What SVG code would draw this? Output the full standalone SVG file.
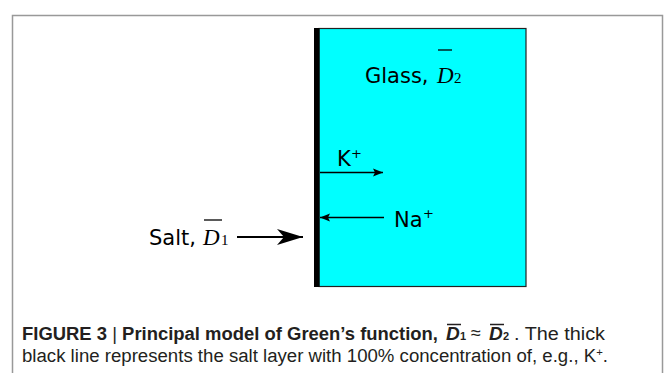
<svg xmlns="http://www.w3.org/2000/svg" width="665" height="373" viewBox="0 0 665 373">
<defs>
<style>
.lab{font-family:"DejaVu Sans",sans-serif;font-size:21px;fill:#000}
.sup{font-family:"DejaVu Sans",sans-serif;font-size:13px;fill:#000}
.mth{font-family:"Liberation Serif",serif;font-style:italic;font-size:23px;fill:#000}
.sub{font-family:"Liberation Serif",serif;font-size:15px;fill:#000}
.cap{font-family:"Liberation Sans",sans-serif;font-size:18px;fill:#231f20}
.capb{font-family:"Liberation Sans",sans-serif;font-size:18px;font-weight:bold;fill:#231f20}
.capd{font-family:"Liberation Sans",sans-serif;font-size:19px;font-weight:bold;font-style:italic;fill:#231f20}
.caps{font-family:"Liberation Sans",sans-serif;font-size:11px;font-weight:bold;fill:#231f20}
.thin{stroke:#000;stroke-width:1.5;fill:none}
</style>
<marker id="sm" viewBox="0 0 10 10" refX="10" refY="5" markerWidth="10" markerHeight="10" markerUnits="userSpaceOnUse" orient="auto">
<path d="M0,1 L10,5 L0,9 L2,5 Z" fill="#000"/>
</marker>
<marker id="big" viewBox="0 0 26 16" refX="26" refY="8" markerWidth="26" markerHeight="16" markerUnits="userSpaceOnUse" orient="auto">
<path d="M0,0 L26,8 L0,16 L7,8 Z" fill="#000"/>
</marker>
</defs>
<rect x="12.5" y="15.5" width="650" height="370" fill="#fff" stroke="#999" stroke-width="1.5"/>
<g id="glass">
<rect x="319" y="28.5" width="207" height="258" fill="#00ffff" stroke="#222" stroke-width="1.2"/>
<text class="lab" x="365" y="83">Glass,</text>
<text class="mth" x="437" y="83">D</text>
<text class="sub" x="454" y="83">2</text>
<line x1="438" y1="50" x2="452" y2="50" stroke="#000" stroke-width="1.3"/>
</g>
<g id="salt-layer">
<rect x="314" y="28" width="5.5" height="259" fill="#000"/>
</g>
<g id="salt">
<text class="lab" x="149" y="245">Salt,</text>
<text class="mth" x="203" y="245">D</text>
<text class="sub" x="221" y="245">1</text>
<line x1="204" y1="220" x2="222" y2="220" stroke="#000" stroke-width="1.3"/>
</g>
<g id="k">
<text class="lab" x="337" y="166">K</text>
<text class="sup" x="351" y="158">+</text>
</g>
<g id="na">
<text class="lab" x="394" y="227">Na</text>
<text class="sup" x="423" y="218">+</text>
</g>
<g id="connectors">
<line class="thin" x1="320" y1="172.5" x2="383" y2="172.5" marker-end="url(#sm)"/>
<line class="thin" x1="384" y1="217.5" x2="320" y2="217.5" marker-end="url(#sm)"/>
<line x1="237" y1="237" x2="303" y2="237" stroke="#000" stroke-width="2" marker-end="url(#big)"/>
</g>
<g id="caption">
<text class="capb" x="22" y="340" textLength="416" lengthAdjust="spacingAndGlyphs">FIGURE 3 <tspan font-weight="normal">|</tspan> Principal model of Green’s function,</text>
<text class="capd" x="446" y="340">D</text>
<text class="caps" x="460" y="340">1</text>
<line x1="447" y1="324.5" x2="461" y2="324.5" stroke="#231f20" stroke-width="1.5"/>
<text class="cap" x="471" y="339" font-size="20">≈</text>
<text class="capd" x="489" y="340">D</text>
<text class="caps" x="503" y="340">2</text>
<line x1="490" y1="324.5" x2="504" y2="324.5" stroke="#231f20" stroke-width="1.5"/>
<text class="cap" x="514" y="340" textLength="91" lengthAdjust="spacingAndGlyphs">. The thick</text>
<text class="cap" x="22" y="362" textLength="586" lengthAdjust="spacingAndGlyphs">black line represents the salt layer with 100% concentration of, e.g., K<tspan font-size="11" dy="-6">+</tspan><tspan dy="6">.</tspan></text>
</g>
</svg>
